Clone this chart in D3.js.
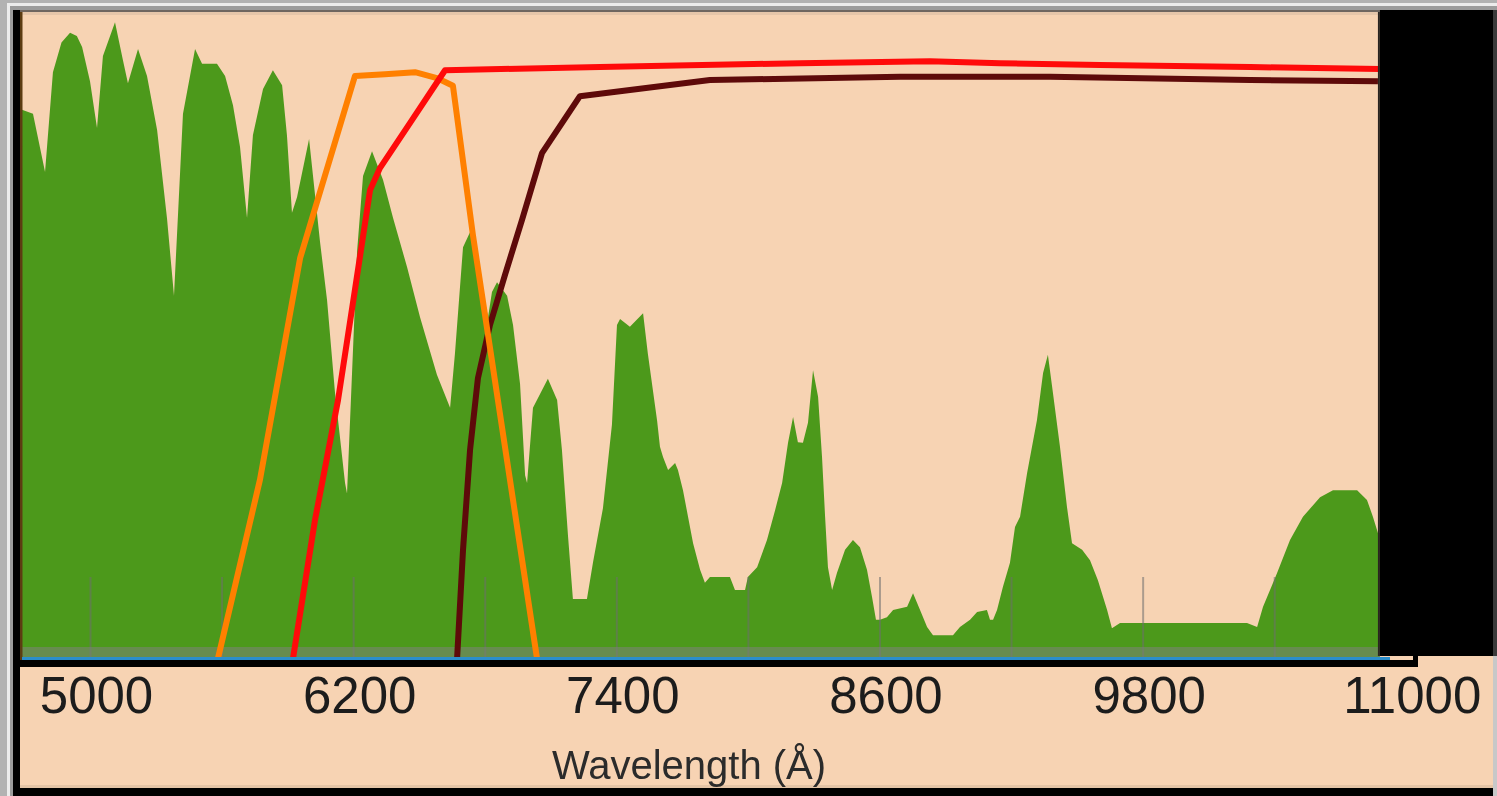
<!DOCTYPE html>
<html>
<head>
<meta charset="utf-8">
<script src="https://cdn.jsdelivr.net/npm/d3@7"></script>
<style>
  html, body { margin: 0; padding: 0; background: #b2b2b2; }
  svg { display: block; filter: blur(0.5px); }
</style>
</head>
<body>
<div id="chart"></div>
<script>
// ── data (wavelength Å, relative flux / throughput %) ─────────
const spectrum = [
  [4690,84.6],[4740,84.0],[4795,75.0],[4831,90.4],[4870,95.0],[4909,96.5],[4940,96.0],[4964,94.3],[5000,89.0],
  [5032,81.8],[5059,92.9],[5114,98.1],[5150,92.3],[5173,88.7],[5219,94.0],[5260,89.8],
  [5306,81.5],[5351,67.9],[5383,55.9],[5424,84.0],[5479,94.0],[5511,91.7],[5579,91.7],
  [5616,89.8],[5652,85.3],[5684,78.9],[5716,67.9],[5743,80.7],[5789,87.8],[5834,90.7],
  [5876,88.4],[5898,80.7],[5921,68.7],[5944,71.1],[5999,80.1],[6049,64.2],[6081,55.2],
  [6117,41.0],[6163,27.0],[6172,25.4],[6218,62.8],[6245,74.4],[6286,78.2],[6336,73.8],
  [6382,67.9],[6446,60.3],[6505,52.6],[6582,43.7],[6642,38.6],[6664,46.9],[6701,63.4],
  [6737,66.0],[6778,59.0],[6815,52.6],[6833,56.5],[6856,58.0],[6902,55.9],[6929,51.4],
  [6961,42.3],[6984,28.2],[6993,27.0],[7020,38.6],[7088,43.1],[7130,39.8],[7152,32.1],
  [7180,18.7],[7202,9.1],[7266,9.1],[7294,14.8],[7339,23.1],[7380,36.0],[7403,51.4],
  [7417,52.3],[7462,51.1],[7522,53.2],[7544,46.9],[7586,36.6],[7599,32.6],[7613,31.0],
  [7636,29.0],[7668,30.1],[7681,29.0],[7704,25.9],[7727,21.8],[7750,17.7],[7782,13.6],
  [7804,11.6],[7827,12.5],[7918,12.5],[7941,10.5],[7987,10.5],[8000,12.5],[8042,14.0],
  [8087,18.2],[8124,22.8],[8156,27.0],[8183,33.2],[8206,37.2],[8228,33.3],[8251,33.2],
  [8274,36.3],[8297,44.4],[8320,40.3],[8338,31.0],[8352,21.8],[8365,14.0],[8384,10.5],
  [8406,13.1],[8443,16.7],[8479,18.2],[8511,17.1],[8543,13.6],[8566,9.4],[8584,5.9],
  [8602,5.9],[8634,6.3],[8662,7.4],[8726,7.9],[8753,10.0],[8785,7.4],[8817,4.8],
  [8844,3.5],[8935,3.5],[8967,4.8],[9013,5.9],[9045,7.1],[9090,7.4],[9104,5.9],
  [9118,5.9],[9136,7.4],[9163,11.0],[9195,14.7],[9218,20.2],[9241,21.8],[9273,28.5],
  [9318,36.7],[9346,44.0],[9368,46.8],[9391,40.9],[9423,32.6],[9455,23.3],[9478,17.7],
  [9524,16.7],[9560,15.1],[9596,12.0],[9638,7.4],[9660,4.6],[9697,5.4],[10276,5.4],
  [10322,4.8],[10349,7.9],[10413,13.1],[10472,18.2],[10531,21.8],[10609,24.8],
  [10668,25.9],[10778,25.9],[10823,24.4],[10850,21.8],[10873,19.3],[10882,19.3]
];

const filterOrange = [
  [5584,0],[5775,27.5],[5958,61.7],[6208,89.8],[6345,90.1],[6482,90.4],
  [6582,89.5],[6655,88.3],[6746,65.3],[7038,0]
];
const filterRed = [
  [5926,0],[6026,21.3],[6131,39.8],[6208,56.8],[6277,72.2],[6322,75.6],[6468,83.0],
  [6619,90.7],[7326,91.2],[8238,91.8],[8830,92.1],[9150,91.8],[9606,91.5],
  [10290,91.2],[10882,90.9]
];
const filterDark = [
  [6674,0],[6701,16.7],[6733,32.1],[6769,43.2],[6824,51.4],[6892,59.1],[6970,67.6],
  [7061,77.9],[7234,86.7],[7827,89.2],[8694,89.7],[9378,89.7],[10290,89.2],[10873,89.0]
];

const labelTicks = [5000, 6200, 7400, 8600, 9800, 11000];
const minorTicks = [5000, 5600, 6200, 6800, 7400, 8000, 8600, 9200, 9800, 10400];
const waveMin = 4690, waveMax = 10882;

// ── layout ───────────────────────────────────────────────────
const W = 1497, H = 796;
const svg = d3.select('#chart').append('svg').attr('width', W).attr('height', H);

const x = d3.scaleLinear().domain([5000, 11000]).range([90, 1405.8]);
const y = d3.scaleLinear().domain([0, 100]).range([658, 10]);

const pL = x(waveMin), pR = x(waveMax), pT = 12, pB = y(0);

// window frame
svg.append('rect').attr('width', W).attr('height', H).attr('fill', '#b2b2b2');
svg.append('rect').attr('x', 7).attr('y', 3).attr('width', W - 7).attr('height', H - 3).attr('fill', '#ececec');
svg.append('rect').attr('x', 10).attr('y', 6).attr('width', W - 10).attr('height', H - 6).attr('fill', '#9c9c9c');
svg.append('rect').attr('x', 13).attr('y', 10).attr('width', 1480).attr('height', H - 10).attr('fill', '#000');
svg.append('rect').attr('x', 20).attr('y', 10).attr('width', 1473).attr('height', 2).attr('fill', '#6f6660');
svg.append('rect').attr('x', 20).attr('y', pT).attr('width', 1473).attr('height', 776).attr('fill', '#f7d3b3');
svg.append('rect').attr('x', 20).attr('y', pT).attr('width', pR - 20).attr('height', 3).attr('fill', '#e6c6aa');
svg.append('rect').attr('x', 20).attr('y', 785).attr('width', 1473).attr('height', 3).attr('fill', '#e4c4a6');
svg.append('rect').attr('x', 1493).attr('y', 10).attr('width', 4).attr('height', 646).attr('fill', '#3a3a3a');
svg.append('rect').attr('x', 1493).attr('y', 656).attr('width', 4).attr('height', 140).attr('fill', '#c8c8c8');

// ── spectrum ─────────────────────────────────────────────────
const area = d3.area().x(d => x(d[0])).y0(pB).y1(d => y(d[1]));
svg.append('path').datum(spectrum).attr('d', area).attr('fill', '#4c991b');

// minor ticks
const tickAxis = svg.append('g').attr('transform', `translate(0,${pB - 1})`)
  .call(d3.axisTop(x).tickValues(minorTicks).tickSize(80).tickFormat(''));
tickAxis.select('.domain').remove();
tickAxis.selectAll('line').attr('stroke', 'rgba(110,110,110,0.55)').attr('stroke-width', 2);

// gray band above baseline
svg.append('rect').attr('x', pL).attr('y', pB - 11).attr('width', pR - pL).attr('height', 10)
  .attr('fill', 'rgba(128,128,128,0.52)');

// ── filter curves ────────────────────────────────────────────
const line = d3.line().x(d => x(d[0])).y(d => y(d[1]));
[[filterDark, '#5e0a0a'], [filterOrange, '#ff8000'], [filterRed, '#ff0a0a']].forEach(([data, col]) => {
  svg.append('path').datum(data).attr('d', line)
    .attr('fill', 'none').attr('stroke', col).attr('stroke-width', 6)
    .attr('stroke-linejoin', 'round');
});

// right-hand black panel & left edge
svg.append('rect').attr('x', pR).attr('y', 10).attr('width', 1493 - pR).attr('height', pB - 12).attr('fill', '#000');
svg.append('rect').attr('x', pR - 2).attr('y', pT).attr('width', 2).attr('height', pB - pT - 2).attr('fill', '#2a2420');
svg.append('rect').attr('x', 20).attr('y', pT).attr('width', 2.5).attr('height', pB - pT + 2).attr('fill', '#5c3c12');

// baseline & axis
svg.append('rect').attr('x', pL).attr('y', pB - 1).attr('width', 1390 - pL).attr('height', 3).attr('fill', '#2b8ecb');
svg.append('rect').attr('x', 13).attr('y', pB + 2).attr('width', 1405).attr('height', 7).attr('fill', '#000');
svg.append('rect').attr('x', 1413).attr('y', pB - 4).attr('width', 5).attr('height', 13).attr('fill', '#000');

const labelAxis = svg.append('g').attr('transform', `translate(0,${pB + 9})`)
  .call(d3.axisBottom(x).tickValues(labelTicks).tickSize(0).tickPadding(0).tickFormat(d3.format('d')));
labelAxis.select('.domain').remove();
labelAxis.selectAll('text')
  .attr('dx', 6).attr('dy', 0).attr('y', 46)
  .attr('font-family', '"Liberation Sans", Arial, Helvetica, sans-serif')
  .attr('font-size', 51).attr('fill', '#1c1c1c');

svg.append('text')
  .attr('x', 689).attr('y', 779).attr('text-anchor', 'middle')
  .attr('font-family', '"Liberation Sans", Arial, Helvetica, sans-serif')
  .attr('font-size', 40).attr('fill', '#2b2b2b')
  .text('Wavelength (Å)');
</script>
</body>
</html>
